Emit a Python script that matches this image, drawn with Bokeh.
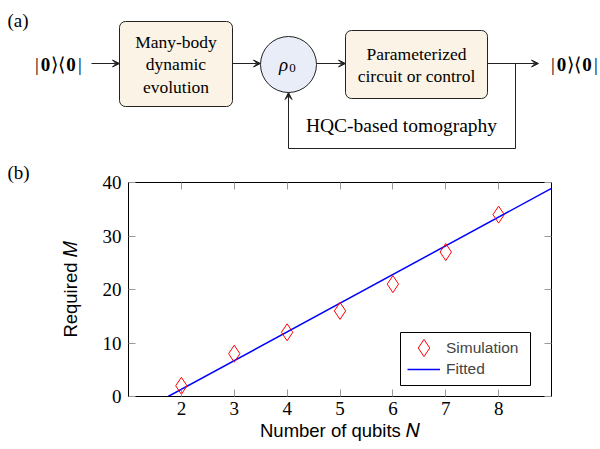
import math
from bokeh.plotting import figure
from bokeh.models import (Range1d, Label, Arrow, VeeHead, BoxAnnotation, LinearAxis,
                          FixedTicker, Legend, LegendItem)
from bokeh.embed import file_html
from bokeh.resources import INLINE

# ---------------- data (panel b) ----------------
n_qubits = [2, 3, 4, 5, 6, 7, 8]
required_m = [2, 8, 12, 16, 21, 27, 34]
fit_n = [1.75, 9.0]
fit_m = [0.0, 38.9]
x_ticks = [2, 3, 4, 5, 6, 7, 8]
y_ticks = [0, 10, 20, 30, 40]
series_labels = ["Simulation", "Fitted"]
x_label = "Number of qubits 𝑁"
y_label = "Required 𝑀"

SERIF = "Liberation Serif"
SANS = "Liberation Sans"
INK = "#222222"

# ---------------- panel (a): diagram ----------------
TOP_W = 600
TOP_H = 159
pa = figure(width=TOP_W, height=TOP_H, x_range=Range1d(0, TOP_W),
            y_range=Range1d(TOP_H, 0), output_backend="svg", toolbar_location=None,
            x_axis_type=None, y_axis_type=None, min_border=0)
pa.outline_line_color = None


def lbl(p, x, y, text, size, font=SERIF, style="normal", align="center", baseline="middle"):
    p.add_layout(Label(x=x, y=y, text=text, text_font=font, text_font_size=size,
                       text_font_style=style, text_align=align, text_baseline=baseline,
                       text_color="black"))


def arrow(p, x0, y0, x1, y1):
    p.add_layout(Arrow(end=VeeHead(size=7, fill_color=INK, line_color=INK, line_width=1),
                       x_start=x0, y_start=y0, x_end=x1, y_end=y1,
                       line_color=INK, line_width=1))


KET_PIECES = [("|", 1.5, "normal"), ("0", 10, "bold"), ("⟩", 19, "normal"),
              ("⟨", 26, "normal"), ("0", 35.5, "bold"), ("|", 44.5, "normal")]


def ketbra(p, x_left, y):
    for t, off, st in KET_PIECES:
        lbl(p, x_left + off, y, t, "19px", style=st)


lbl(pa, 7, 20, "(a)", "19px", align="left")
ketbra(pa, 35, 64)
arrow(pa, 91, 63, 119, 63)

pa.add_layout(BoxAnnotation(left=119, right=232, top=21, bottom=106, fill_color="#FBF3E6",
                            fill_alpha=1, line_color=INK, line_width=1, line_alpha=1,
                            border_radius=6, level="underlay"))
lbl(pa, 175.5, 41, "Many-body", "17.5px")
lbl(pa, 175.5, 63.5, "dynamic", "17.5px")
lbl(pa, 175.5, 86, "evolution", "17.5px")
arrow(pa, 232, 63, 260, 63)

pa.scatter(x=[288], y=[64], size=56, marker="circle", fill_color="#E9EDF7",
           line_color=INK, line_width=1)
lbl(pa, 283, 64, "ρ", "19px", style="italic")
lbl(pa, 292, 67.5, "0", "13px")
arrow(pa, 316, 63, 345, 63)

pa.add_layout(BoxAnnotation(left=345, right=487, top=30, bottom=98, fill_color="#FBF3E6",
                            fill_alpha=1, line_color=INK, line_width=1, line_alpha=1,
                            border_radius=6, level="underlay"))
lbl(pa, 416, 53, "Parameterized", "17.5px")
lbl(pa, 416, 75, "circuit or control", "17.5px")
arrow(pa, 487, 63, 538, 63)
ketbra(pa, 551, 64)

pa.line(x=[515, 515, 288], y=[63, 148, 148], line_color=INK, line_width=1)
arrow(pa, 288, 148, 288, 92)
lbl(pa, 401, 125, "HQC-based tomography", "19.5px")

# ---------------- panel (b): plot ----------------
ML, MR, MT, MB = 128, 49, 0, 52
FW, FH = 423, 214
pb = figure(frame_width=FW, frame_height=FH, x_range=Range1d(1, 9), y_range=Range1d(0, 40),
            output_backend="svg", toolbar_location=None,
            min_border_left=ML, min_border_right=MR, min_border_top=MT, min_border_bottom=MB)
pb.grid.visible = False
pb.outline_line_color = "black"
pb.outline_line_width = 1
pb.outline_line_alpha = 1

pb.title.text = "(b)"
pb.title.align = "left"
pb.title.offset = -121
pb.title.standoff = 0
pb.title.text_font = SERIF
pb.title.text_font_size = "19px"
pb.title.text_font_style = "normal"
pb.title.text_color = "black"

TICK = "#9a9a9a"
for ax, tk, so in [(pb.xaxis[0], x_ticks, 5), (pb.yaxis[0], y_ticks, 7)]:
    ax.ticker = FixedTicker(ticks=tk)
    ax.major_tick_in = 7
    ax.major_tick_out = 0
    ax.minor_tick_in = 0
    ax.minor_tick_out = 0
    ax.major_tick_line_color = TICK
    ax.axis_line_color = "black"
    ax.major_label_text_font = SERIF
    ax.major_label_text_font_size = "19px"
    ax.major_label_text_color = "black"
    ax.major_label_standoff = so
    ax.axis_label_text_font = SANS
    ax.axis_label_text_font_size = "18.5px"
    ax.axis_label_text_font_style = "normal"
    ax.axis_label_text_color = "black"

pb.xaxis[0].axis_label = x_label
pb.xaxis[0].axis_label_standoff = 2
pb.yaxis[0].axis_label = y_label
pb.yaxis[0].axis_label_standoff = 19

for side, tk in [("above", x_ticks), ("right", y_ticks)]:
    a = LinearAxis(ticker=FixedTicker(ticks=tk), major_tick_in=7, major_tick_out=0,
                   minor_tick_in=0, minor_tick_out=0, major_tick_line_color=TICK,
                   axis_line_color=None, major_label_text_font_size="0px",
                   major_label_standoff=0, major_label_text_alpha=0)
    pb.add_layout(a, side)

r_fit = pb.line(fit_n, fit_m, line_color="#0000ff", line_width=1.5)
r_sim = pb.scatter(n_qubits, required_m, marker="diamond", size=17, fill_color=None,
                   line_color="#ff0000", line_width=1)

# legend frame, positioned in screen px relative to the plot frame
FRAME_L, FRAME_B = 128, 397


def dx(px):
    return 1 + (px - FRAME_L) * 8.0 / FW


def dy(py):
    return (FRAME_B - py) * 40.0 / FH


pb.add_layout(BoxAnnotation(left=dx(400), right=dx(530), top=dy(333), bottom=dy(386),
                            fill_color="white", fill_alpha=1, line_color="black",
                            line_width=1, line_alpha=1))

common = dict(padding=0, spacing=0, label_text_font=SANS, label_text_font_size="15.5px",
              border_line_color=None, background_fill_alpha=0, margin=0, label_width=20)
leg_s = Legend(items=[LegendItem(label=series_labels[0], renderers=[r_sim])],
               location=(274, 27), glyph_width=43, glyph_height=43, label_standoff=1, **common)
leg_f = Legend(items=[LegendItem(label=series_labels[1], renderers=[r_fit])],
               location=(279, 16), glyph_width=33, glyph_height=22, label_standoff=6, **common)
pb.add_layout(leg_s)
pb.add_layout(leg_f)

open("out.html", "w").write(file_html([pa, pb], INLINE))
